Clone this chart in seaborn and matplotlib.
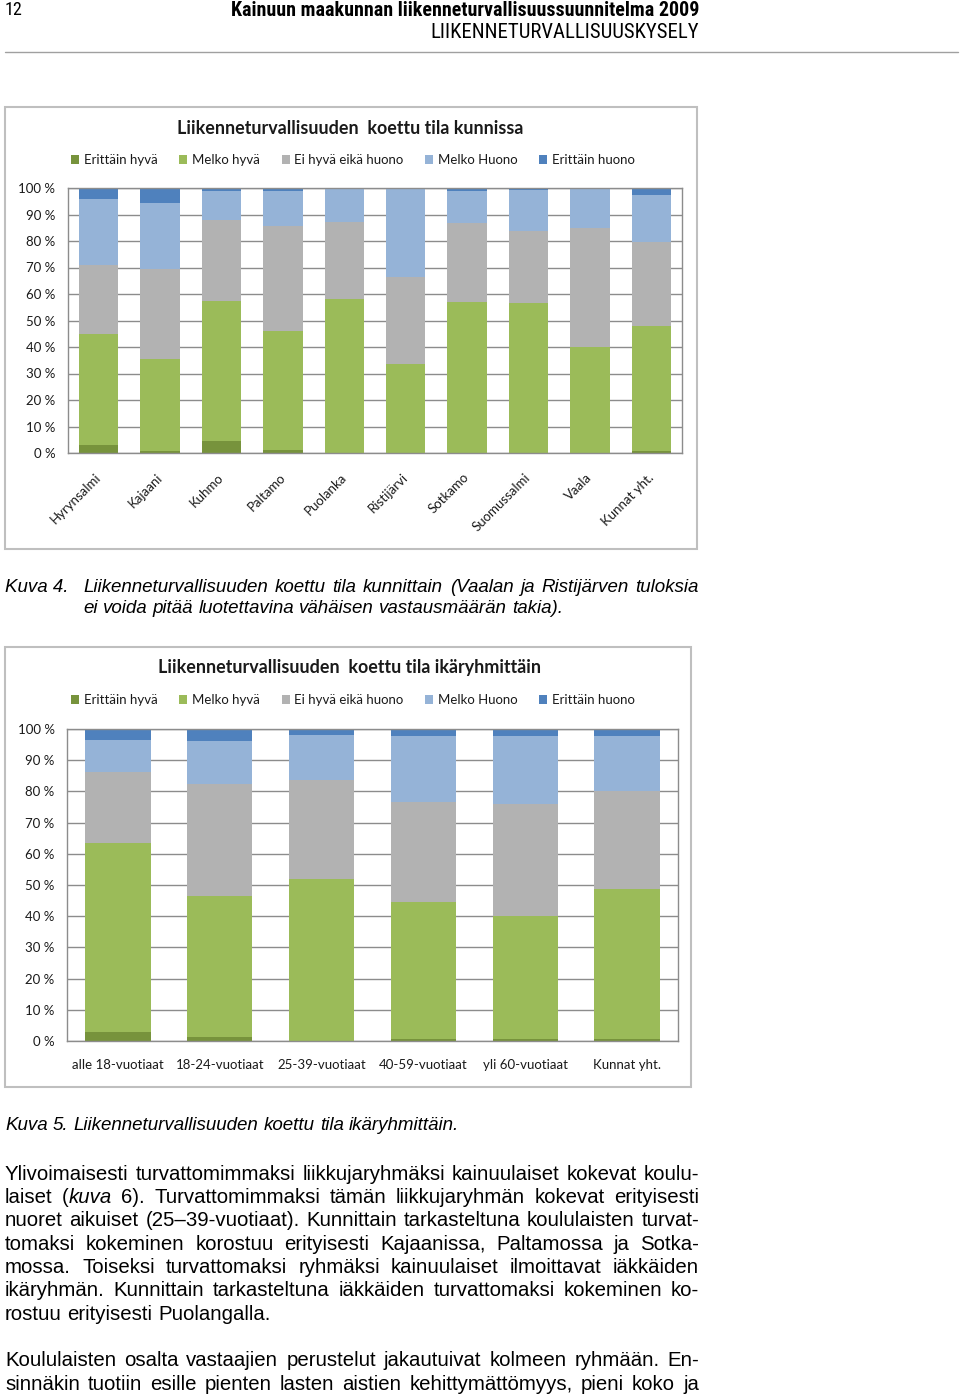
import matplotlib
matplotlib.use("Agg")
import pandas as pd
import matplotlib.pyplot as plt
import seaborn as sns
from matplotlib import font_manager
from matplotlib.patches import Patch, Rectangle
from matplotlib.lines import Line2D
from matplotlib.transforms import ScaledTranslation

W, H = 960, 1399

# Vastausluokat ja niiden värit
levels = ["Erittäin hyvä", "Melko hyvä", "Ei hyvä eikä huono", "Melko Huono", "Erittäin huono"]
colors = ["#77933C", "#9BBB59", "#B2B2B2", "#95B3D7", "#4F81BD"]

# Kuva 4: kunnittain (%)
kunnat = ["Hyrynsalmi", "Kajaani", "Kuhmo", "Paltamo", "Puolanka", "Ristijärvi",
          "Sotkamo", "Suomussalmi", "Vaala", "Kunnat yht."]
k_erittain_hyva = [3.0, 0.6, 4.6, 1.0, 0.0, 0.0, 0.0, 0.0, 0.0, 0.9]
k_melko_hyva = [42.0, 34.7, 52.6, 45.1, 58.0, 33.7, 56.8, 56.5, 40.1, 47.0]
k_ei_hyva = [26.0, 34.1, 30.9, 39.5, 29.0, 32.8, 29.9, 27.3, 44.7, 31.6]
k_melko_huono = [25.0, 25.0, 10.9, 13.4, 13.0, 33.5, 12.3, 15.5, 15.2, 18.0]
k_erittain_huono = [4.0, 5.6, 1.0, 1.0, 0.0, 0.0, 1.0, 0.7, 0.0, 2.5]

# Kuva 5: ikäryhmittäin (%)
ikaryhmat = ["alle 18-vuotiaat", "18-24-vuotiaat", "25-39-vuotiaat",
             "40-59-vuotiaat", "yli 60-vuotiaat", "Kunnat yht."]
i_erittain_hyva = [3.0, 1.3, 0.0, 0.5, 0.8, 0.6]
i_melko_hyva = [60.5, 45.3, 51.8, 44.0, 39.4, 48.0]
i_ei_hyva = [22.6, 35.9, 31.7, 32.0, 35.8, 31.5]
i_melko_huono = [10.3, 13.6, 14.6, 21.4, 21.9, 17.6]
i_erittain_huono = [3.6, 3.9, 1.9, 2.1, 2.1, 2.3]

paragraph1 = [
    "Ylivoimaisesti turvattomimmaksi liikkujaryhmäksi kainuulaiset kokevat koulu-",
    "laiset (*kuva* 6). Turvattomimmaksi tämän liikkujaryhmän kokevat erityisesti",
    "nuoret aikuiset (25–39-vuotiaat). Kunnittain tarkasteltuna koululaisten turvat-",
    "tomaksi kokeminen korostuu erityisesti Kajaanissa, Paltamossa ja Sotka-",
    "mossa. Toiseksi turvattomaksi ryhmäksi kainuulaiset ilmoittavat iäkkäiden",
    "ikäryhmän. Kunnittain tarkasteltuna iäkkäiden turvattomaksi kokeminen ko-",
    "rostuu erityisesti Puolangalla.",
]
paragraph2 = [
    "Koululaisten osalta vastaajien perustelut jakautuivat kolmeen ryhmään. En-",
    "sinnäkin tuotiin esille pienten lasten aistien kehittymättömyys, pieni koko ja",
]

sns.set_theme(style="white")
plt.rcParams["font.family"] = ["Lato", "DejaVu Sans"]
CHART_TEXT = "#1a1a1a"
GRID = "#8C8C8C"
BODY = "Liberation Sans"
names = {f.name for f in font_manager.fontManager.ttflist}
NARROW = BODY
for cand in ["Liberation Sans Narrow", "Roboto Condensed", "DejaVu Sans Condensed"]:
    if cand in names:
        NARROW = cand
        break

fig = plt.figure(figsize=(W / 100, H / 100), dpi=100)
fig.patch.set_facecolor("white")
renderer = fig.canvas.get_renderer()


def px(x, y):
    return x / W, 1 - y / H


def fitted_text(x, y, s, width, size, ha, **kw):
    t = fig.text(*px(x, y), s, fontsize=size, ha=ha, va="center", color="black", **kw)
    w = t.get_window_extent(renderer).width
    t.set_fontsize(size * width / w)
    return t


def text_line(s, x0, x1, y, size, justify, style="normal"):
    words = s.split(" ")
    pieces, widths = [], []
    for word in words:
        arts, wsum = [], 0
        for i, part in enumerate(word.split("*")):
            if not part:
                continue
            italic = (i % 2 == 1) != (style == "italic")
            t = fig.text(0, 1 - y / H, part, fontsize=size, family=BODY,
                         style="italic" if italic else "normal",
                         va="center", ha="left", color="black")
            bw = t.get_window_extent(renderer).width
            arts.append((t, bw))
            wsum += bw
        pieces.append(arts)
        widths.append(wsum)
    space = 0.278 * size * 100 / 72
    if justify and len(words) > 1:
        gap = max((x1 - x0 - sum(widths)) / (len(words) - 1), 0.6 * space)
    else:
        gap = space
    x = x0
    for arts, w in zip(pieces, widths):
        for t, bw in arts:
            t.set_x(x / W)
            x += bw
        x += gap


def stacked_chart(ax, cats, series):
    df = pd.DataFrame(dict(zip(levels, series)), index=cats)
    cum = df.cumsum(axis=1).reset_index(names="kategoria")
    long = cum.melt(id_vars="kategoria", var_name="taso", value_name="kertyma")
    # piirretään kertymät ylimmästä alimpaan, jolloin syntyy pinottu pylväs
    for level, color in reversed(list(zip(levels, colors))):
        sub = long[long["taso"] == level]
        sns.barplot(data=sub, x="kategoria", y="kertyma", order=cats, color=color,
                    saturation=1, width=0.64, errorbar=None, linewidth=0, ax=ax)
    ax.set_xlabel("")
    ax.set_ylabel("")
    ax.set_ylim(0, 100)
    ax.set_yticks(range(0, 101, 10))
    ax.set_yticklabels([f"{v} %" for v in range(0, 101, 10)])
    ax.yaxis.grid(True, color=GRID, lw=1)
    ax.set_axisbelow(True)
    for s in ax.spines.values():
        s.set_visible(True)
        s.set_color(GRID)
        s.set_linewidth(1)
    ax.tick_params(length=0, labelsize=9.5, colors=CHART_TEXT)
    ax.tick_params(axis="y", pad=9)


def chart_frame(x0, y0, x1, y1, title, title_y, legend_y):
    fig.patches.append(Rectangle(px(x0, y1), (x1 - x0) / W, (y1 - y0) / H,
                                 transform=fig.transFigure, fill=False,
                                 ec="#BFBFBF", lw=1.5))
    fig.text(*px(350, title_y), title, ha="center", va="center",
             fontsize=12.9, fontweight="bold", color=CHART_TEXT)
    handles = [Patch(facecolor=c, edgecolor="none") for c in colors]
    fig.legend(handles, levels, loc="center", bbox_to_anchor=px(353, legend_y),
               ncol=5, frameon=False, fontsize=9.5, handlelength=0.6,
               handleheight=0.6, handletextpad=0.35, columnspacing=1.65,
               borderaxespad=0, labelcolor=CHART_TEXT)


# Sivun ylätunniste
fig.text(*px(5, 10), "12", fontsize=13, family=NARROW, ha="left", va="center", color="black")
fitted_text(699, 10, "Kainuun maakunnan liikenneturvallisuussuunnitelma 2009", 465, 13,
            "right", family=NARROW, fontweight="bold")
fitted_text(699, 32, "LIIKENNETURVALLISUUSKYSELY", 267, 13, "right", family=NARROW)
fig.add_artist(Line2D([5 / W, 958 / W], [1 - 52 / H] * 2, color="#A0A0A0", lw=1))

# Kuva 4
chart_frame(5, 107, 697, 549, "Liikenneturvallisuuden  koettu tila kunnissa", 128, 160)
ax1 = fig.add_axes([68 / W, 1 - 453 / H, (682 - 68) / W, (453 - 188) / H])
stacked_chart(ax1, kunnat, [k_erittain_hyva, k_melko_hyva, k_ei_hyva,
                            k_melko_huono, k_erittain_huono])
ax1.set_xticks(range(len(kunnat)))
ax1.set_xticklabels(kunnat, rotation=45, ha="right", rotation_mode="anchor")
ax1.tick_params(axis="x", pad=13)
shift = ScaledTranslation(-4 / 100, 0, fig.dpi_scale_trans)
for lab in ax1.get_xticklabels():
    lab.set_transform(lab.get_transform() + shift)

fig.text(*px(5, 587), "Kuva 4.", fontsize=13.5, family=BODY, style="italic",
         va="center", ha="left", color="black")
text_line("Liikenneturvallisuuden koettu tila kunnittain (Vaalan ja Ristijärven tuloksia",
          83, 699, 587, 13.5, True, style="italic")
text_line("ei voida pitää luotettavina vähäisen vastausmäärän takia).",
          83, 699, 608, 13.5, False, style="italic")

# Kuva 5
chart_frame(5, 647, 691, 1087, "Liikenneturvallisuuden  koettu tila ikäryhmittäin", 668, 700)
ax2 = fig.add_axes([67 / W, 1 - 1041 / H, (678 - 67) / W, (1041 - 729) / H])
stacked_chart(ax2, ikaryhmat, [i_erittain_hyva, i_melko_hyva, i_ei_hyva,
                               i_melko_huono, i_erittain_huono])
ax2.tick_params(axis="x", pad=13)

text_line("Kuva 5. Liikenneturvallisuuden koettu tila ikäryhmittäin.",
          5, 699, 1125, 13.5, False, style="italic")

# Leipäteksti
for i, line in enumerate(paragraph1):
    text_line(line, 5, 699, 1174 + i * 23.4, 14.7, i < len(paragraph1) - 1)
for i, line in enumerate(paragraph2):
    text_line(line, 5, 699, 1361 + i * 23.4, 14.7, True)

fig.savefig("out.png", dpi=100, facecolor="white")
